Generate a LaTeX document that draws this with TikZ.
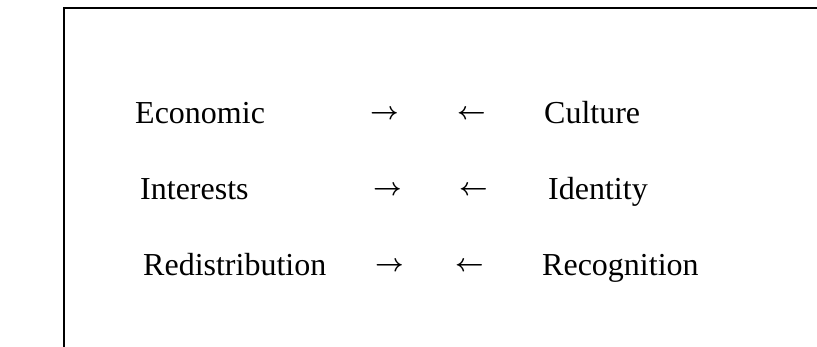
\documentclass[tikz,border=0pt]{standalone}
\usepackage{fontspec}
\usepackage{bm}
\setmainfont{Liberation Serif}
\begin{document}
\begin{tikzpicture}[x=1pt,y=-1pt,
  lbl/.style={anchor=base west,inner sep=0pt,font=\fontsize{32}{38}\selectfont},
  arr/.style={anchor=base west,inner sep=0pt,font=\fontsize{26}{32}\selectfont},
  frame/.style={line width=1.6pt,black}]
\useasboundingbox (0,0) rectangle (817,347);
\coordinate (tl) at (64,8);
\coordinate (tr) at (817,8);
\coordinate (bl) at (64,347);
\draw[frame] (tr) -- (tl) -- (bl);
\node[lbl] (eco) at (135,124) {Economic};
\node[arr] (a1) at (370,124) {\raisebox{4.5pt}{$\bm{\rightarrow}$}};
\node[arr] (b1) at (457,124) {\raisebox{4.5pt}{$\bm{\leftarrow}$}};
\node[lbl] (cul) at (544,124) {Culture};
\node[lbl] (int) at (140,200) {Interests};
\node[arr] (a2) at (373,200) {\raisebox{4.5pt}{$\bm{\rightarrow}$}};
\node[arr] (b2) at (459,200) {\raisebox{4.5pt}{$\bm{\leftarrow}$}};
\node[lbl] (ide) at (548,200) {Identity};
\node[lbl] (red) at (143,276) {Redistribution};
\node[arr] (a3) at (375,276) {\raisebox{4.5pt}{$\bm{\rightarrow}$}};
\node[arr] (b3) at (455,276) {\raisebox{4.5pt}{$\bm{\leftarrow}$}};
\node[lbl] (rec) at (542,276) {Recognition};
\end{tikzpicture}
\end{document}
